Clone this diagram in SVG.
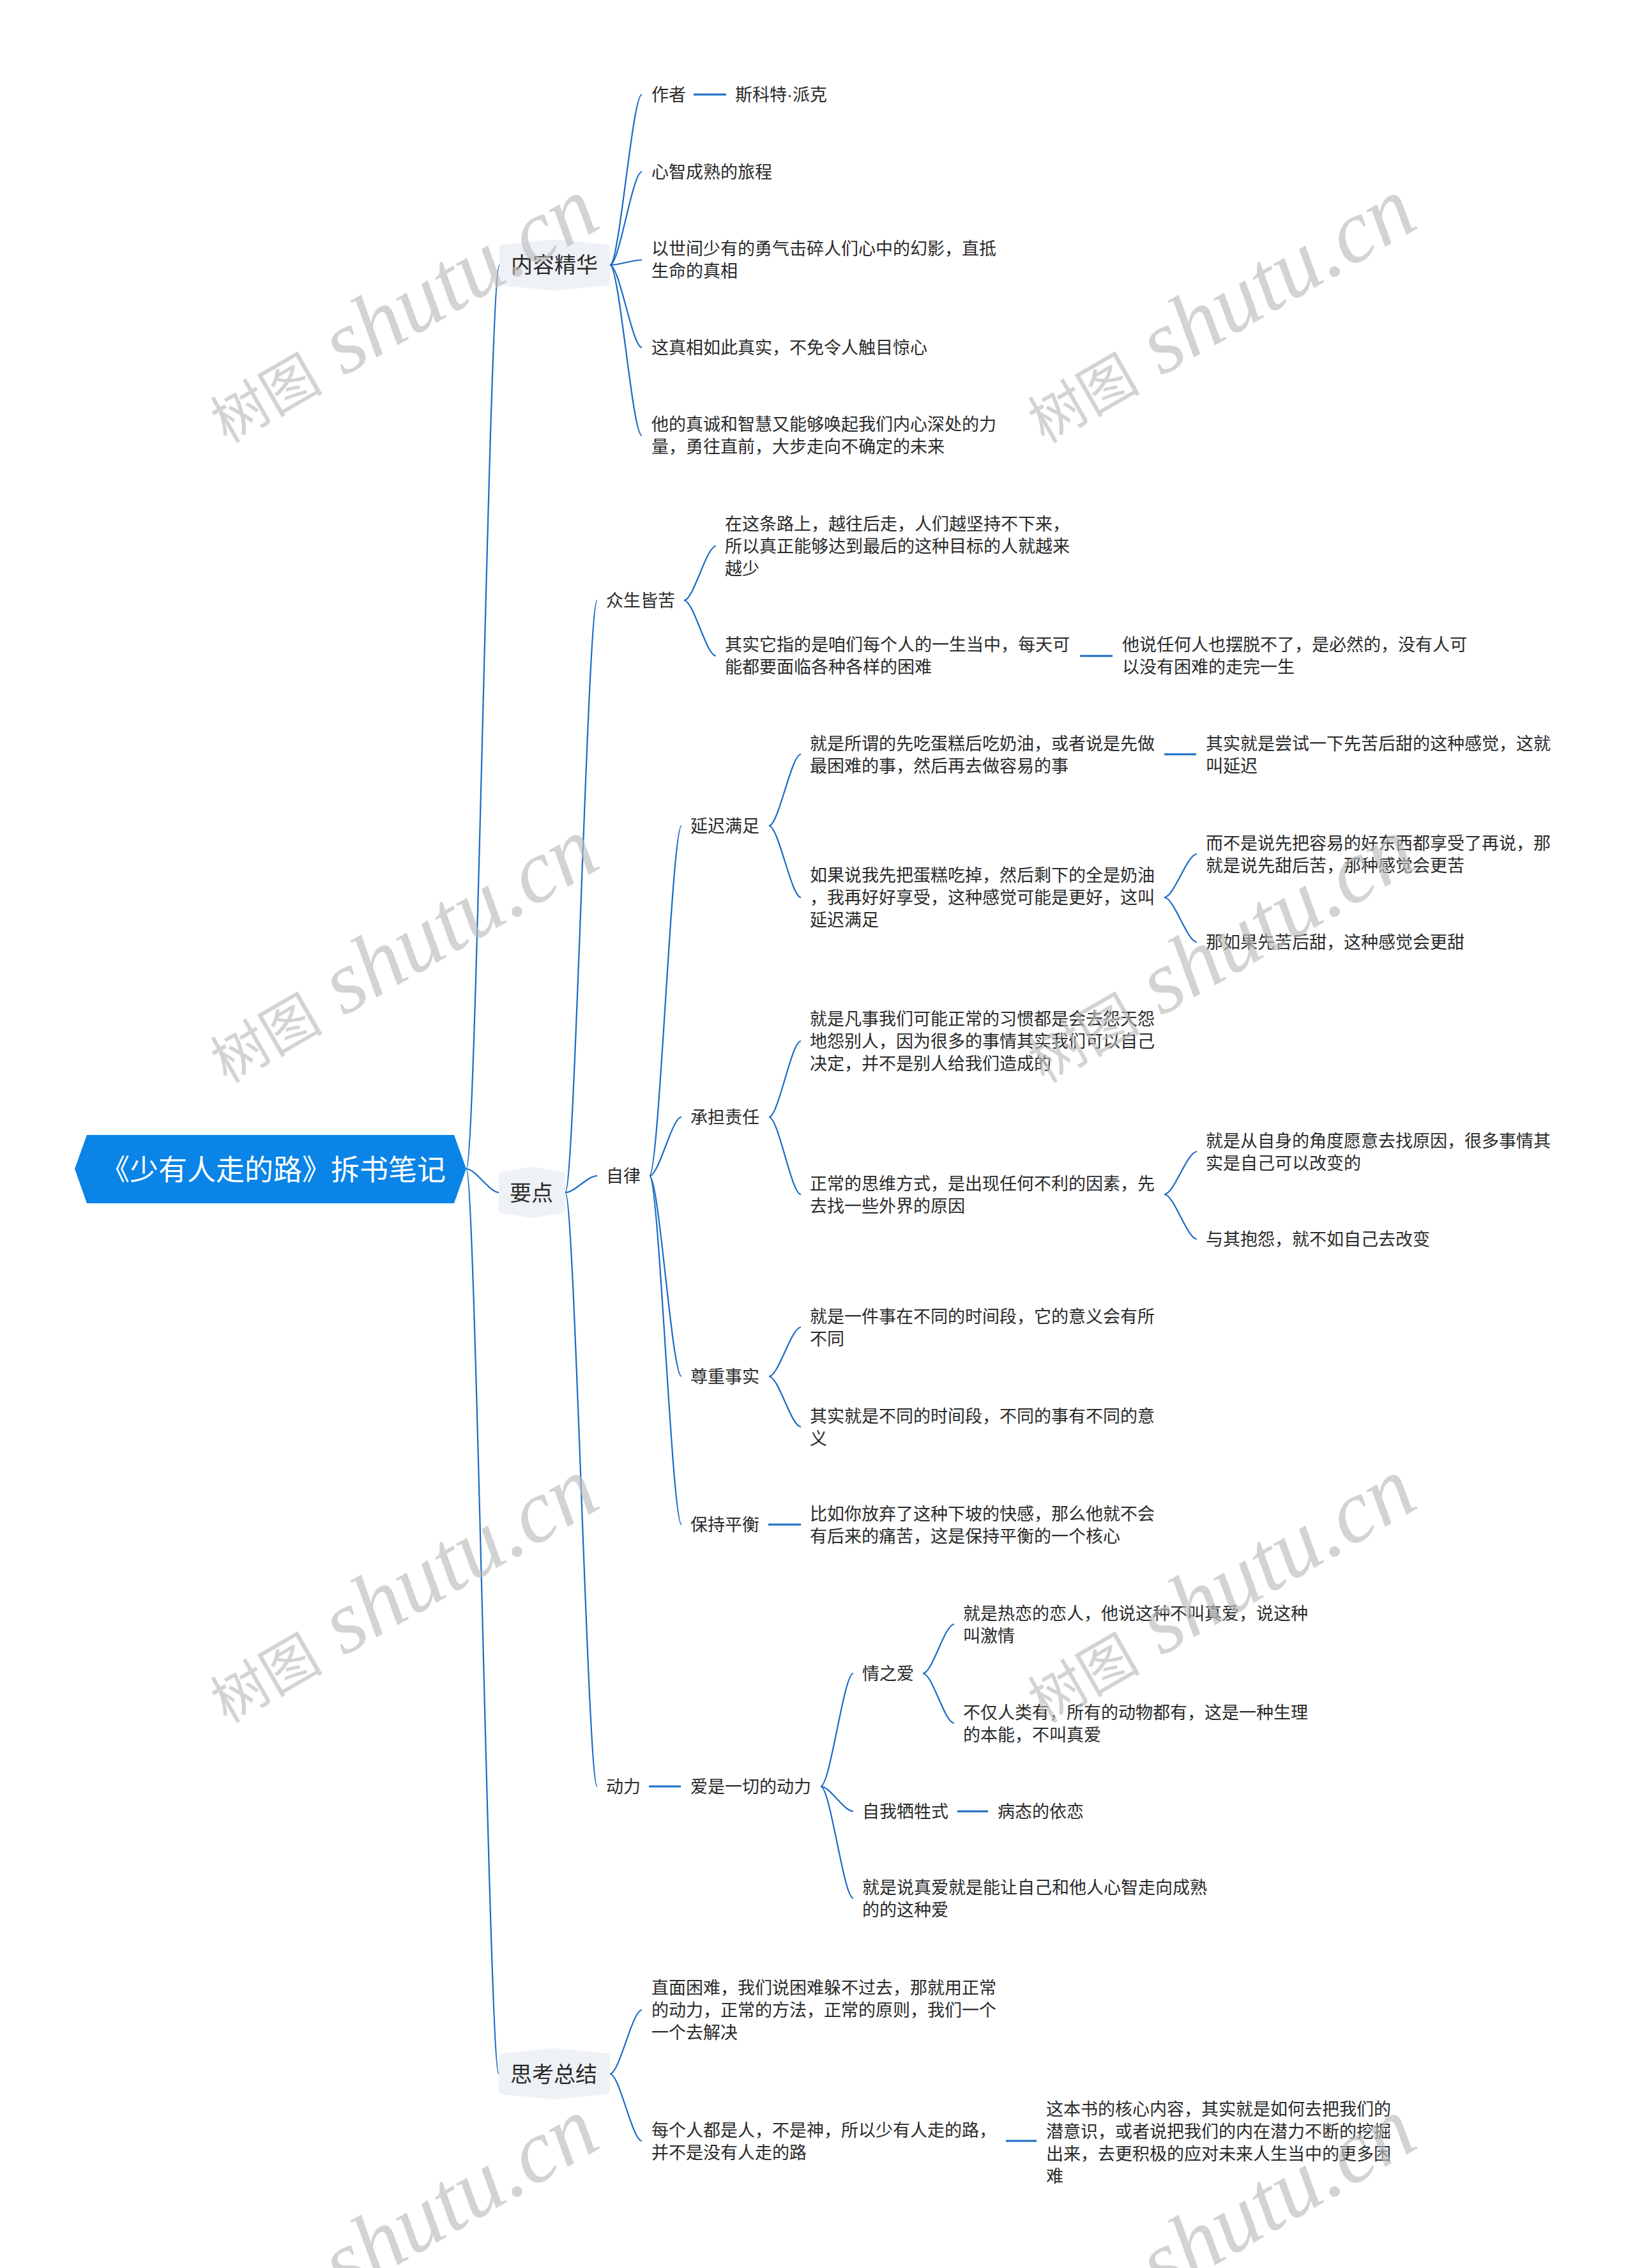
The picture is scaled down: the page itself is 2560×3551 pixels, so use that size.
<svg xmlns="http://www.w3.org/2000/svg" width="2560" height="3551" viewBox="0 0 2560 3551">
<style>
.t{font-family:"Noto Sans CJK SC","Noto Sans",sans-serif;font-size:27px;fill:#2a2a2a}
.l1{font-size:34px}
.rt{font-size:45px;fill:#ffffff}
.c{fill:none;stroke:#1a6bc4;stroke-width:2.2}
.d{fill:none;stroke:#1a6bc4;stroke-width:3}
.bg{fill:#eef1f5;stroke:#eef1f5;stroke-width:10;stroke-linejoin:round}
.dot{font-family:"Liberation Sans",sans-serif}
.wm{font-family:"Liberation Serif","Noto Sans CJK SC",serif;fill:#bdbdbd;opacity:0.65}
.wm .cj{font-family:"Noto Sans CJK SC",sans-serif;font-size:88px}
.wm .la{font-family:"Liberation Serif",serif;font-style:italic;font-size:140px}
</style>
<rect x="0" y="0" width="2560" height="3551" fill="#ffffff"/>
<g id="connectors">
<path class="c" d="M730 1830 C746 1830 766 415 782 415"/>
<path class="c" d="M730 1830 C745 1830 766 1867 781 1867"/>
<path class="c" d="M730 1830 C745 1830 766 3247 781 3247"/>
<path class="c" d="M955 415 C970 415 990 148 1005 148"/>
<path class="c" d="M955 415 C970 415 990 269 1005 269"/>
<path class="c" d="M955 415 C970 415 990 407 1005 407"/>
<path class="c" d="M955 415 C970 415 990 544 1005 544"/>
<path class="c" d="M955 415 C970 415 990 682 1005 682"/>
<path class="d" d="M1086 148 H1137"/>
<path class="c" d="M885 1867 C900 1867 920 940 935 940"/>
<path class="c" d="M885 1867 C900 1867 920 1841 935 1841"/>
<path class="c" d="M885 1867 C900 1867 920 2797 935 2797"/>
<path class="c" d="M1071 940 C1086 940 1106 855 1121 855"/>
<path class="c" d="M1071 940 C1086 940 1106 1027 1121 1027"/>
<path class="d" d="M1691 1027 H1742"/>
<path class="c" d="M1017 1841 C1032 1841 1052 1293 1067 1293"/>
<path class="c" d="M1017 1841 C1032 1841 1052 1749 1067 1749"/>
<path class="c" d="M1017 1841 C1032 1841 1052 2155 1067 2155"/>
<path class="c" d="M1017 1841 C1032 1841 1052 2387 1067 2387"/>
<path class="c" d="M1204 1293 C1219 1293 1239 1181 1254 1181"/>
<path class="c" d="M1204 1293 C1219 1293 1239 1405 1254 1405"/>
<path class="d" d="M1823 1181 H1873"/>
<path class="c" d="M1823 1405 C1838 1405 1859 1337 1874 1337"/>
<path class="c" d="M1823 1405 C1838 1405 1859 1475 1874 1475"/>
<path class="c" d="M1204 1749 C1219 1749 1239 1630 1254 1630"/>
<path class="c" d="M1204 1749 C1219 1749 1239 1870 1254 1870"/>
<path class="c" d="M1823 1870 C1838 1870 1859 1803 1874 1803"/>
<path class="c" d="M1823 1870 C1838 1870 1859 1940 1874 1940"/>
<path class="c" d="M1204 2155 C1219 2155 1239 2078 1254 2078"/>
<path class="c" d="M1204 2155 C1219 2155 1239 2234 1254 2234"/>
<path class="d" d="M1203 2387 H1254"/>
<path class="d" d="M1016 2797 H1066"/>
<path class="c" d="M1285 2797 C1300 2797 1321 2620 1336 2620"/>
<path class="c" d="M1285 2797 C1300 2797 1321 2836 1336 2836"/>
<path class="c" d="M1285 2797 C1300 2797 1321 2972 1336 2972"/>
<path class="c" d="M1445 2620 C1460 2620 1479 2543 1494 2543"/>
<path class="c" d="M1445 2620 C1460 2620 1479 2698 1494 2698"/>
<path class="d" d="M1499 2836 H1547"/>
<path class="c" d="M955 3247 C970 3247 990 3147 1005 3147"/>
<path class="c" d="M955 3247 C970 3247 990 3352 1005 3352"/>
<path class="d" d="M1575 3352 H1623"/>
</g>
<g id="root">
<polygon points="117,1830 136,1777 711,1777 730,1830 711,1884 136,1884" fill="#0a84e6"/>
<text class="t rt" x="428" y="1848" text-anchor="middle">《少有人走的路》拆书笔记</text>
</g>
<g id="n-neirong">
<polygon class="bg" points="787,388 868,380 950,388 950,442 868,450 787,442"/>
<text class="t l1" x="800" y="427">内容精华</text>
</g>
<g id="n-zuozhe"><text class="t" x="1020" y="158">作者</text></g>
<g id="n-pike"><text class="t" x="1151" y="158">斯科特<tspan class="dot">·</tspan>派克</text></g>
<g id="n-xinzhi"><text class="t" x="1020" y="279">心智成熟的旅程</text></g>
<g id="n-yishijian"><text class="t"><tspan x="1020" y="399">以世间少有的勇气击碎人们心中的幻影，直抵</tspan><tspan x="1020" y="434">生命的真相</tspan></text></g>
<g id="n-zhenxiang"><text class="t" x="1020" y="554">这真相如此真实，不免令人触目惊心</text></g>
<g id="n-zhencheng"><text class="t"><tspan x="1020" y="674">他的真诚和智慧又能够唤起我们内心深处的力</tspan><tspan x="1020" y="709">量，勇往直前，大步走向不确定的未来</tspan></text></g>
<g id="n-yaodian">
<polygon class="bg" points="786,1840 833,1832 880,1840 880,1894 833,1902 786,1894"/>
<text class="t l1" x="798" y="1880">要点</text>
</g>
<g id="n-zhongsheng"><text class="t" x="949" y="950">众生皆苦</text></g>
<g id="n-a"><text class="t"><tspan x="1135" y="830">在这条路上，越往后走，人们越坚持不下来，</tspan><tspan x="1135" y="865">所以真正能够达到最后的这种目标的人就越来</tspan><tspan x="1135" y="900">越少</tspan></text></g>
<g id="n-b"><text class="t"><tspan x="1135" y="1019">其实它指的是咱们每个人的一生当中，每天可</tspan><tspan x="1135" y="1054">能都要面临各种各样的困难</tspan></text></g>
<g id="n-c"><text class="t"><tspan x="1757" y="1019">他说任何人也摆脱不了，是必然的，没有人可</tspan><tspan x="1757" y="1054">以没有困难的走完一生</tspan></text></g>
<g id="n-zilv"><text class="t" x="949" y="1851">自律</text></g>
<g id="n-yanchi"><text class="t" x="1081" y="1303">延迟满足</text></g>
<g id="n-d"><text class="t"><tspan x="1268" y="1174">就是所谓的先吃蛋糕后吃奶油，或者说是先做</tspan><tspan x="1268" y="1209">最困难的事，然后再去做容易的事</tspan></text></g>
<g id="n-e"><text class="t"><tspan x="1888" y="1174">其实就是尝试一下先苦后甜的这种感觉，这就</tspan><tspan x="1888" y="1209">叫延迟</tspan></text></g>
<g id="n-f"><text class="t"><tspan x="1268" y="1380">如果说我先把蛋糕吃掉，然后剩下的全是奶油</tspan><tspan x="1268" y="1415">，我再好好享受，这种感觉可能是更好，这叫</tspan><tspan x="1268" y="1450">延迟满足</tspan></text></g>
<g id="n-g"><text class="t"><tspan x="1888" y="1330">而不是说先把容易的好东西都享受了再说，那</tspan><tspan x="1888" y="1365">就是说先甜后苦，那种感觉会更苦</tspan></text></g>
<g id="n-h"><text class="t" x="1888" y="1485">那如果先苦后甜，这种感觉会更甜</text></g>
<g id="n-chengdan"><text class="t" x="1081" y="1759">承担责任</text></g>
<g id="n-i"><text class="t"><tspan x="1268" y="1605">就是凡事我们可能正常的习惯都是会去怨天怨</tspan><tspan x="1268" y="1640">地怨别人，因为很多的事情其实我们可以自己</tspan><tspan x="1268" y="1675">决定，并不是别人给我们造成的</tspan></text></g>
<g id="n-j"><text class="t"><tspan x="1268" y="1863">正常的思维方式，是出现任何不利的因素，先</tspan><tspan x="1268" y="1898">去找一些外界的原因</tspan></text></g>
<g id="n-k"><text class="t"><tspan x="1888" y="1796">就是从自身的角度愿意去找原因，很多事情其</tspan><tspan x="1888" y="1831">实是自己可以改变的</tspan></text></g>
<g id="n-l"><text class="t" x="1888" y="1950">与其抱怨，就不如自己去改变</text></g>
<g id="n-zunzhong"><text class="t" x="1081" y="2165">尊重事实</text></g>
<g id="n-m"><text class="t"><tspan x="1268" y="2071">就是一件事在不同的时间段，它的意义会有所</tspan><tspan x="1268" y="2106">不同</tspan></text></g>
<g id="n-n"><text class="t"><tspan x="1268" y="2227">其实就是不同的时间段，不同的事有不同的意</tspan><tspan x="1268" y="2262">义</tspan></text></g>
<g id="n-baochi"><text class="t" x="1081" y="2397">保持平衡</text></g>
<g id="n-o"><text class="t"><tspan x="1268" y="2380">比如你放弃了这种下坡的快感，那么他就不会</tspan><tspan x="1268" y="2415">有后来的痛苦，这是保持平衡的一个核心</tspan></text></g>
<g id="n-dongli"><text class="t" x="949" y="2807">动力</text></g>
<g id="n-ai"><text class="t" x="1081" y="2807">爱是一切的动力</text></g>
<g id="n-qingzhiai"><text class="t" x="1350" y="2630">情之爱</text></g>
<g id="n-p"><text class="t"><tspan x="1508" y="2536">就是热恋的恋人，他说这种不叫真爱，说这种</tspan><tspan x="1508" y="2571">叫激情</tspan></text></g>
<g id="n-q"><text class="t"><tspan x="1508" y="2691">不仅人类有，所有的动物都有，这是一种生理</tspan><tspan x="1508" y="2726">的本能，不叫真爱</tspan></text></g>
<g id="n-zuowo"><text class="t" x="1350" y="2846">自我牺牲式</text></g>
<g id="n-bingtai"><text class="t" x="1562" y="2846">病态的依恋</text></g>
<g id="n-r"><text class="t"><tspan x="1350" y="2965">就是说真爱就是能让自己和他人心智走向成熟</tspan><tspan x="1350" y="3000">的的这种爱</tspan></text></g>
<g id="n-sikao">
<polygon class="bg" points="786,3220 868,3212 950,3220 950,3274 868,3282 786,3274"/>
<text class="t l1" x="799" y="3260">思考总结</text>
</g>
<g id="n-s"><text class="t"><tspan x="1020" y="3122">直面困难，我们说困难躲不过去，那就用正常</tspan><tspan x="1020" y="3157">的动力，正常的方法，正常的原则，我们一个</tspan><tspan x="1020" y="3192">一个去解决</tspan></text></g>
<g id="n-t"><text class="t"><tspan x="1020" y="3345">每个人都是人，不是神，所以少有人走的路，</tspan><tspan x="1020" y="3380">并不是没有人走的路</tspan></text></g>
<g id="n-u"><text class="t"><tspan x="1638" y="3312">这本书的核心内容，其实就是如何去把我们的</tspan><tspan x="1638" y="3347">潜意识，或者说把我们的内在潜力不断的挖掘</tspan><tspan x="1638" y="3382">出来，去更积极的应对未来人生当中的更多困</tspan><tspan x="1638" y="3417">难</tspan></text></g>
<g id="watermarks">
<text class="wm" transform="translate(355,695) rotate(-30)"><tspan class="cj">树图</tspan><tspan class="la"> shutu.cn</tspan></text>
<text class="wm" transform="translate(1635,695) rotate(-30)"><tspan class="cj">树图</tspan><tspan class="la"> shutu.cn</tspan></text>
<text class="wm" transform="translate(355,1697) rotate(-30)"><tspan class="cj">树图</tspan><tspan class="la"> shutu.cn</tspan></text>
<text class="wm" transform="translate(1635,1697) rotate(-30)"><tspan class="cj">树图</tspan><tspan class="la"> shutu.cn</tspan></text>
<text class="wm" transform="translate(355,2699) rotate(-30)"><tspan class="cj">树图</tspan><tspan class="la"> shutu.cn</tspan></text>
<text class="wm" transform="translate(1635,2699) rotate(-30)"><tspan class="cj">树图</tspan><tspan class="la"> shutu.cn</tspan></text>
<text class="wm" transform="translate(355,3701) rotate(-30)"><tspan class="cj">树图</tspan><tspan class="la"> shutu.cn</tspan></text>
<text class="wm" transform="translate(1635,3701) rotate(-30)"><tspan class="cj">树图</tspan><tspan class="la"> shutu.cn</tspan></text>
</g>
</svg>
